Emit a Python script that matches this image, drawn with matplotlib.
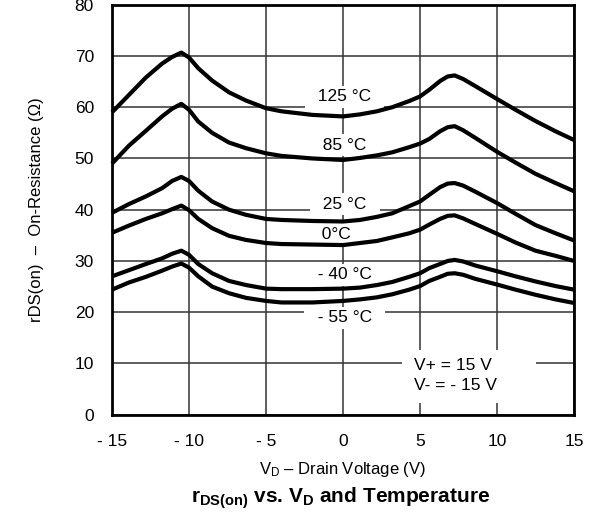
import numpy as np
import matplotlib
matplotlib.use("Agg")
import matplotlib.pyplot as plt
from matplotlib.patches import Rectangle

plt.rcParams['font.family'] = ['Liberation Sans', 'DejaVu Sans']
plt.rcParams['mathtext.fontset'] = 'custom'
plt.rcParams['mathtext.rm'] = 'Liberation Sans'
plt.rcParams['mathtext.it'] = 'Liberation Sans'
plt.rcParams['mathtext.bf'] = 'Liberation Sans:bold'

# drain voltage sample points (V)
vd = [-15, -13.9, -12.8, -11.75, -11.1, -10.5, -10.0, -9.4, -8.5, -7.4, -6.3, -5.0, -4.0,
      -2.0, 0.0, 1.1, 2.2, 3.2, 4.3, 5.0, 5.6, 6.3, 6.8, 7.25, 7.8, 8.6, 10.0, 11.2,
      12.5, 13.8, 15.0]

# on-resistance (ohm) per temperature
r_125 = [59.0, 62.4, 65.8, 68.5, 69.8, 70.65, 69.7, 67.6, 65.2, 62.9, 61.3, 59.8, 59.2,
         58.5, 58.2, 58.6, 59.2, 60.0, 61.2, 62.1, 63.4, 65.1, 66.0, 66.2, 65.5, 64.1,
         61.6, 59.5, 57.3, 55.3, 53.6]
r_85 = [49.0, 52.5, 55.4, 58.2, 59.7, 60.65, 59.5, 57.2, 55.0, 53.1, 52.0, 51.0, 50.5,
        50.0, 49.7, 50.1, 50.6, 51.2, 52.2, 52.9, 53.8, 55.3, 56.1, 56.3, 55.5, 54.0,
        51.3, 49.2, 47.0, 45.2, 43.6]
r_25 = [39.4, 41.1, 42.6, 44.2, 45.6, 46.4, 45.6, 43.7, 41.6, 40.0, 39.0, 38.2, 38.0,
        37.8, 37.7, 38.0, 38.6, 39.3, 40.7, 41.6, 42.9, 44.4, 45.1, 45.2, 44.7, 43.5,
        41.3, 39.2, 37.0, 35.4, 34.0]
r_0 = [35.5, 36.9, 38.2, 39.3, 40.1, 40.8, 39.9, 38.2, 36.4, 34.9, 34.1, 33.5, 33.3,
       33.2, 33.1, 33.5, 33.9, 34.6, 35.4, 36.1, 37.1, 38.2, 38.8, 38.9, 38.3, 37.2,
       35.3, 33.6, 32.0, 31.0, 30.0]
r_m40 = [27.0, 28.2, 29.4, 30.5, 31.4, 32.0, 31.2, 29.4, 27.6, 26.1, 25.3, 24.6, 24.5,
         24.5, 24.6, 24.8, 25.3, 25.9, 26.9, 27.6, 28.6, 29.4, 30.0, 30.2, 29.9, 29.1,
         28.0, 27.0, 26.0, 25.1, 24.4]
r_m55 = [24.4, 25.8, 26.9, 28.1, 28.9, 29.5, 28.7, 27.0, 25.0, 23.7, 22.8, 22.2, 21.9,
         21.9, 22.2, 22.5, 22.9, 23.5, 24.4, 25.1, 26.1, 26.9, 27.5, 27.6, 27.3, 26.5,
         25.4, 24.4, 23.4, 22.5, 21.8]

curves = [r_125, r_85, r_25, r_0, r_m40, r_m55]
labels = ['125 °C', '85 °C', '25 °C', '0°C', '- 40 °C', '- 55 °C']
label_pos = [(0.1, 62.0), (0.1, 52.6), (0.1, 41.1), (-0.45, 35.2), (0.1, 27.3), (0.1, 18.9)]

xticks = [-15, -10, -5, 0, 5, 10, 15]
xticklabels = ['- 15', '- 10', '- 5', '0', '5', '10', '15']
yticks = [0, 10, 20, 30, 40, 50, 60, 70, 80]

fig = plt.figure(figsize=(5.93, 5.16), dpi=100)
ax = fig.add_axes([0.1889, 0.1963, 0.7791, 0.7946])

ax.set_xlim(-15, 15)
ax.set_ylim(0, 80)
ax.set_xticks(xticks)
ax.set_xticklabels(xticklabels)
ax.set_yticks(yticks)
ax.tick_params(length=0, labelsize=12.5)
ax.tick_params(axis='x', pad=14)
ax.tick_params(axis='y', pad=13)
ax.grid(True, color='#333333', linewidth=1.1)
ax.set_axisbelow(True)
for s in ax.spines.values():
    s.set_linewidth(2)
    s.set_zorder(5)

for r in curves:
    ax.plot(vd, r, color='black', linewidth=3.0, solid_joinstyle='round',
            solid_capstyle='butt', zorder=3, clip_on=False)

for lab, (x, y) in zip(labels, label_pos):
    ax.text(x, y, '  ' + lab + '  ', fontsize=12.5, ha='center', va='center', zorder=2,
            bbox=dict(facecolor='white', edgecolor='none', pad=2.5))

# white box behind the supply note
ax.add_patch(Rectangle((3.8, 2.3), 8.7, 10.3, facecolor='white', edgecolor='none', zorder=1.5))
ax.text(4.6, 7.6, 'V+ = 15 V\nV- = - 15 V', fontsize=12.5, ha='left', va='center',
        linespacing=1.45, zorder=2)

ax.set_xlabel(r'$\mathrm{V_D}$ – Drain Voltage (V)', fontsize=12, labelpad=8)
ax.set_ylabel('rDS(on)  –  On-Resistance (Ω)', fontsize=12, labelpad=22)

fig.text(0.574, 0.035, r'$\mathbf{r_{DS(on)}}$ vs. $\mathbf{V_D}$ and Temperature',
         fontsize=15, fontweight='bold', ha='center', va='center')

fig.savefig('out.png', dpi=100)
